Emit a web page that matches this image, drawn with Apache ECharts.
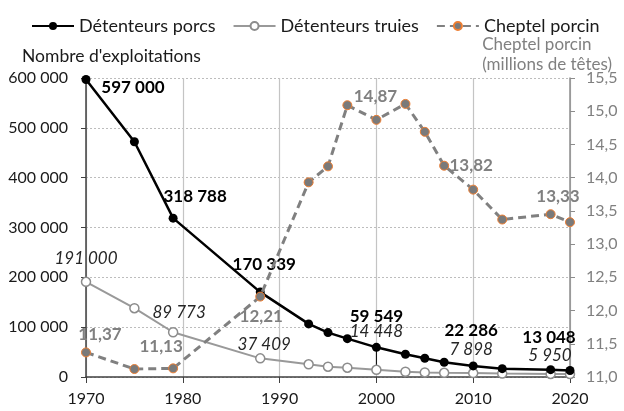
<!DOCTYPE html>
<html>
<head>
<meta charset="utf-8">
<script src="https://cdn.jsdelivr.net/npm/echarts@6/dist/echarts.min.js"></script>
<style>
  html, body { margin: 0; padding: 0; background: #fff; }
  #chart { width: 624px; height: 411px; }
</style>
</head>
<body>
<div id="chart"></div>
<script>
// années des relevés
var years = [1970, 1975, 1979, 1988, 1993, 1995, 1997, 2000, 2003, 2005, 2007, 2010, 2013, 2018, 2020];
// nombre d'exploitations
var porcs = [597000, 472000, 318788, 170339, 106600, 89100, 77000, 59549, 45600, 37600, 29600, 22286, 16700, 14700, 13048];
var truies = [191000, 138100, 89773, 37409, 25500, 20700, 18700, 14448, 10500, 9200, 8400, 7898, 6800, 6100, 5950];
// cheptel en millions de têtes
var cheptel = [11.37, 11.12, 11.13, 12.21, 13.93, 14.17, 15.09, 14.87, 15.11, 14.69, 14.18, 13.82, 13.37, 13.45, 13.33];
var leftTicks = [0, 600000, 100000];
var rightTicks = [11, 15.5, 0.5];
var xTicks = [1970, 2020, 10];

// décalage des étiquettes (par année) -- seules ces années sont étiquetées
var offPorcs = {1970: [47, 26], 1979: [22, -4], 1988: [4, -10], 2000: [0, -13], 2010: [-2, -17], 2020: [-21, -15]};
var offTruies = {1970: [0, -5], 1979: [6, -1], 1988: [4, 5], 2000: [0, -20], 2010: [-2, -5], 2020: [-20, 0]};
var offCheptel = {1970: [14, 1], 1979: [-12, -3], 1988: [1, 38], 2000: [-1, -5], 2010: [-2, -6], 2020: [-12, -7]};

var FONT = 'Lato';

function milliers(v) {
  return String(Math.round(v)).replace(/\B(?=(\d{3})+(?!\d))/g, ' ');
}
function virgule(v, d) {
  return v.toFixed(d).replace('.', ',');
}

function build(vals, offs, labelStyle, fmt) {
  return years.map(function (y, i) {
    var item = { value: [y, vals[i]] };
    if (offs[y]) {
      item.label = Object.assign({
        show: true,
        position: 'top',
        offset: offs[y],
        formatter: function (p) { return fmt(p.value[1]); }
      }, labelStyle);
    }
    return item;
  });
}

var myChart = echarts.init(document.getElementById('chart'));

var dataPorcs = build(porcs, offPorcs,
  {color: '#000', fontWeight: 'bold', fontSize: 17, fontFamily: FONT}, milliers);
var dataTruies = build(truies, offTruies,
  {color: '#262626', fontStyle: 'italic', fontSize: 17, fontFamily: FONT}, milliers);
var dataCheptel = build(cheptel, offCheptel,
  {color: '#808080', fontWeight: 'bold', fontSize: 17, fontFamily: FONT}, function (v) { return virgule(v, 2); });

// trait de rappel entre le point 2000 des truies et son étiquette
dataTruies[years.indexOf(2000)].labelLine = {show: true, lineStyle: {color: '#000', width: 1}};

myChart.setOption({
  animation: false,
  textStyle: {fontFamily: FONT},
  legend: {
    left: 26,
    top: 12,
    itemWidth: 42,
    itemHeight: 10,
    itemGap: 17,
    textStyle: {fontSize: 18, color: '#1a1a1a', fontFamily: FONT},
    data: ['Détenteurs porcs', 'Détenteurs truies', 'Cheptel porcin']
  },
  grid: {left: 86, right: 54, top: 78, bottom: 34, containLabel: false},
  xAxis: {
    type: 'value',
    min: xTicks[0],
    max: xTicks[1],
    interval: xTicks[2],
    axisLine: {lineStyle: {color: '#404040', width: 1.5}},
    axisTick: {show: true, length: 6, lineStyle: {color: '#404040'}},
    axisLabel: {
      fontSize: 16, color: '#1a1a1a', margin: 14, fontFamily: FONT,
      formatter: function (v) { return String(v); }
    },
    splitLine: {show: true, lineStyle: {color: '#c4c4c4', width: 1.2}}
  },
  yAxis: [
    {
      type: 'value',
      min: leftTicks[0],
      max: leftTicks[1],
      interval: leftTicks[2],
      axisLine: {show: true, lineStyle: {color: '#404040', width: 1.5}},
      axisTick: {show: true, length: 5, lineStyle: {color: '#404040'}},
      axisLabel: {fontSize: 16, color: '#1a1a1a', margin: 18, fontFamily: FONT, formatter: milliers},
      splitLine: {show: true, lineStyle: {color: '#bdbdbd', type: [2, 2], width: 1}}
    },
    {
      type: 'value',
      position: 'right',
      min: rightTicks[0],
      max: rightTicks[1],
      interval: rightTicks[2],
      axisLine: {show: true, lineStyle: {color: '#8c8c8c', width: 1.5}},
      axisTick: {show: true, length: 5, lineStyle: {color: '#8c8c8c'}},
      axisLabel: {fontSize: 16, color: '#808080', margin: 16, fontFamily: FONT,
        formatter: function (v) { return virgule(v, 1); }},
      splitLine: {show: false}
    }
  ],
  graphic: [
    {type: 'text', left: 22, top: 47,
      style: {text: "Nombre d'exploitations", font: '17.5px ' + FONT, fill: '#1a1a1a'}},
    {type: 'text', right: 12, top: 35,
      style: {text: 'Cheptel porcin\n(millions de têtes)', font: '17px ' + FONT, fill: '#808080',
        align: 'right', lineHeight: 20}}
  ],
  series: [
    {
      name: 'Détenteurs porcs',
      type: 'line',
      yAxisIndex: 0,
      symbol: 'circle',
      symbolSize: 9,
      itemStyle: {color: '#000'},
      lineStyle: {color: '#000', width: 2.5},
      data: dataPorcs,
      z: 3
    },
    {
      name: 'Détenteurs truies',
      type: 'line',
      yAxisIndex: 0,
      symbol: 'circle',
      symbolSize: 9,
      itemStyle: {color: '#fff', borderColor: '#8c8c8c', borderWidth: 1.5},
      lineStyle: {color: '#999999', width: 2},
      data: dataTruies,
      z: 2
    },
    {
      name: 'Cheptel porcin',
      type: 'line',
      yAxisIndex: 1,
      symbol: 'circle',
      symbolSize: 9,
      itemStyle: {color: '#7a7a7a', borderColor: '#ed7d31', borderWidth: 1},
      lineStyle: {color: '#808080', width: 3, type: [8, 5]},
      data: dataCheptel,
      z: 4
    }
  ]
});
</script>
</body>
</html>
